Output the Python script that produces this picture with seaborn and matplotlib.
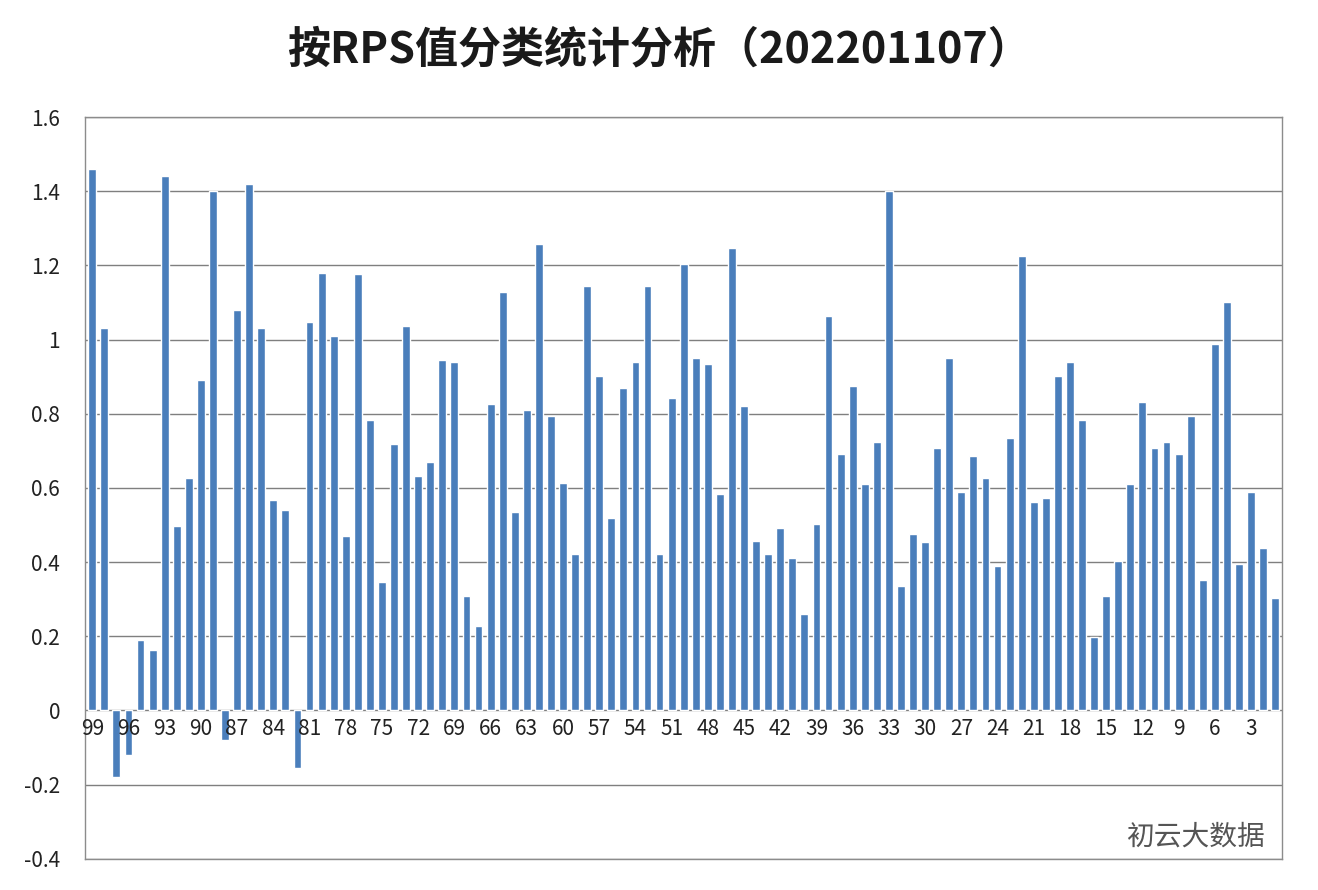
import matplotlib
matplotlib.use("Agg")
import matplotlib.pyplot as plt
import seaborn as sns
import pandas as pd

categories = list(range(99, 0, -1))
values = [1.46, 1.03, -0.18, -0.12, 0.19, 0.163, 1.44, 0.497, 0.626, 0.89,
          1.40, -0.08, 1.08, 1.42, 1.03, 0.567, 0.54, -0.155, 1.047, 1.18,
          1.01, 0.47, 1.177, 0.782, 0.346, 0.718, 1.037, 0.632, 0.67, 0.945,
          0.94, 0.309, 0.228, 0.826, 1.129, 0.535, 0.81, 1.257, 0.793, 0.612,
          0.421, 1.144, 0.902, 0.519, 0.869, 0.94, 1.144, 0.421, 0.843, 1.204,
          0.95, 0.933, 0.585, 1.247, 0.82, 0.458, 0.421, 0.491, 0.41, 0.26,
          0.502, 1.063, 0.691, 0.875, 0.61, 0.723, 1.40, 0.335, 0.475, 0.454,
          0.708, 0.951, 0.588, 0.685, 0.626, 0.39, 0.734, 1.225, 0.561, 0.572,
          0.902, 0.94, 0.782, 0.199, 0.308, 0.404, 0.611, 0.832, 0.708, 0.723,
          0.691, 0.793, 0.351, 0.987, 1.10, 0.395, 0.588, 0.437, 0.303]
ytick_vals = [1.6, 1.4, 1.2, 1.0, 0.8, 0.6, 0.4, 0.2, 0.0, -0.2, -0.4]
ytick_labels = ["1.6", "1.4", "1.2", "1", "0.8", "0.6", "0.4", "0.2", "0", "-0.2", "-0.4"]

sns.set_theme(style="white")
plt.rcParams['font.family'] = ['Noto Sans CJK SC', 'DejaVu Sans']

df = pd.DataFrame({"cat": [str(c) for c in categories], "val": values})
fig = plt.figure(figsize=(13.18, 8.9), dpi=100)
ax = fig.add_axes([0.0645, 0.035, 0.9085, 0.8335])
sns.barplot(data=df, x="cat", y="val", order=df["cat"].tolist(), color="#4A7EBB",
            saturation=1, width=0.65, ax=ax)
ax.set_ylim(-0.4, 1.6)
ax.set_xlim(-0.6, len(categories) - 0.4)
ax.set_yticks(ytick_vals)
ax.set_yticklabels(ytick_labels, fontsize=15, color="#222222")
ax.yaxis.grid(True, color="#7f7f7f", linewidth=1)
ax.set_axisbelow(True)
ax.set_xticks([])
ax.set_xlabel("")
ax.set_ylabel("")
ax.tick_params(axis="y", pad=18, length=0)
for sp in ax.spines.values():
    sp.set_color("#8c8c8c")
    sp.set_linewidth(1)
for i, c in enumerate(categories):
    if c % 3 == 0:
        ax.text(i, -0.02, str(c), ha="center", va="top", fontsize=15, color="#222222")
fig.text(0.5, 0.945, "按RPS值分类统计分析（202201107）", ha="center", va="center",
         fontsize=31, fontweight="bold", color="#1a1a1a")
fig.text(0.96, 0.06, "初云大数据", ha="right", va="center", fontsize=20, color="#555555")
fig.savefig("out.png", dpi=100)
